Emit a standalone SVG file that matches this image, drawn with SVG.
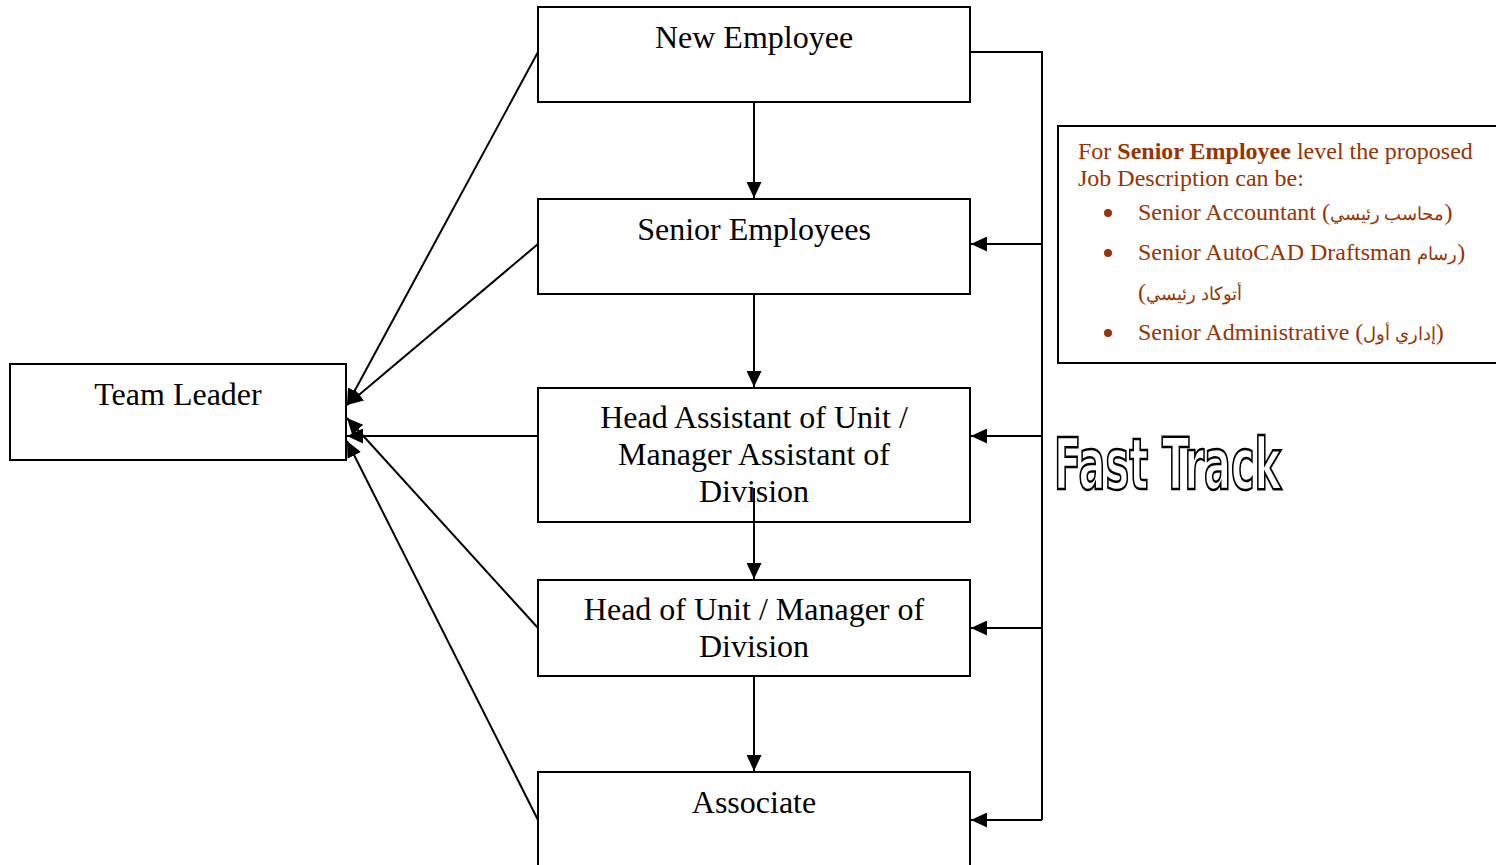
<svg xmlns="http://www.w3.org/2000/svg" width="1496" height="865" viewBox="0 0 1496 865">
<defs>
<marker id="ah" markerUnits="userSpaceOnUse" markerWidth="17" markerHeight="15" refX="16" refY="7.5" orient="auto">
<path d="M0,0 L16,7.5 L0,15 Z" fill="#000"/>
</marker>
<style>
.box{fill:#fff;stroke:#000;stroke-width:2}
.lbl{font-family:"Liberation Serif","Times New Roman",serif;font-size:32px;fill:#000;text-anchor:middle}
.con{stroke:#000;stroke-width:2;fill:none}
.side{font-family:"Liberation Serif","Times New Roman","Noto Sans",serif;font-size:24px;fill:#993300}
.ar{font-size:18px}
</style>
</defs>
<rect width="1496" height="865" fill="#fff"/>
<g id="connectors">
<line class="con" x1="754" y1="102" x2="754" y2="198" marker-end="url(#ah)"/>
<line class="con" x1="754" y1="292" x2="754" y2="387" marker-end="url(#ah)"/>
<line class="con" x1="754" y1="676" x2="754" y2="771" marker-end="url(#ah)"/>
<polyline class="con" points="970,52 1042,52 1042,820"/>
<line class="con" x1="1042" y1="244" x2="971" y2="244" marker-end="url(#ah)"/>
<line class="con" x1="1042" y1="436" x2="971" y2="436" marker-end="url(#ah)"/>
<line class="con" x1="1042" y1="628" x2="971" y2="628" marker-end="url(#ah)"/>
<line class="con" x1="1042" y1="820" x2="971" y2="820" marker-end="url(#ah)"/>
<line class="con" x1="538" y1="52" x2="347" y2="405" marker-end="url(#ah)"/>
<line class="con" x1="538" y1="244" x2="347" y2="405" marker-end="url(#ah)"/>
<line class="con" x1="538" y1="436" x2="347" y2="436" marker-end="url(#ah)"/>
<line class="con" x1="538" y1="628" x2="347" y2="418" marker-end="url(#ah)"/>
<line class="con" x1="538" y1="820" x2="347" y2="441" marker-end="url(#ah)"/>
</g>
<g id="new-employee">
<rect class="box" x="538" y="7" width="432" height="95"/>
<text class="lbl" x="754" y="48">New Employee</text>
</g>
<g id="senior-employees">
<rect class="box" x="538" y="199" width="432" height="95"/>
<text class="lbl" x="754" y="240">Senior Employees</text>
</g>
<g id="head-assistant">
<rect class="box" x="538" y="388" width="432" height="134"/>
<text class="lbl" x="754" y="428">Head Assistant of Unit /</text>
<text class="lbl" x="754" y="465">Manager Assistant of</text>
<text class="lbl" x="754" y="502">Division</text>
</g>
<line class="con" x1="754" y1="488" x2="754" y2="579" marker-end="url(#ah)"/>
<g id="head-of-unit">
<rect class="box" x="538" y="580" width="432" height="96"/>
<text class="lbl" x="754" y="620">Head of Unit / Manager of</text>
<text class="lbl" x="754" y="657">Division</text>
</g>
<g id="associate">
<rect class="box" x="538" y="772" width="432" height="110"/>
<text class="lbl" x="754" y="813">Associate</text>
</g>
<g id="team-leader">
<rect class="box" x="10" y="364" width="336" height="96"/>
<text class="lbl" x="178" y="405">Team Leader</text>
</g>
<g id="senior-note">
<rect class="box" x="1058" y="126" width="450" height="237"/>
<text class="side" x="1078" y="159">For <tspan font-weight="bold">Senior Employee</tspan> level the proposed</text>
<text class="side" x="1078" y="186">Job Description can be:</text>
<circle cx="1108" cy="213" r="4" fill="#993300"/>
<circle cx="1108" cy="253" r="4" fill="#993300"/>
<circle cx="1108" cy="333" r="4" fill="#993300"/>
<text class="side" x="1138" y="220">Senior Accountant (<tspan class="ar">محاسب رئيسي</tspan>)</text>
<text class="side" x="1138" y="260">Senior AutoCAD Draftsman <tspan class="ar">رسام</tspan>)</text>
<text class="side" x="1138" y="300">(<tspan class="ar">أتوكاد رئيسي</tspan></text>
<text class="side" x="1138" y="340">Senior Administrative (<tspan class="ar">إداري أول</tspan>)</text>
</g>
<g id="fast-track">
<text x="1054" y="489" font-family="'DejaVu Sans Condensed','DejaVu Sans',sans-serif" font-weight="bold" font-size="72" fill="#fff" stroke="#000" stroke-width="2.5" textLength="227" lengthAdjust="spacingAndGlyphs">Fast Track</text>
</g>
</svg>
